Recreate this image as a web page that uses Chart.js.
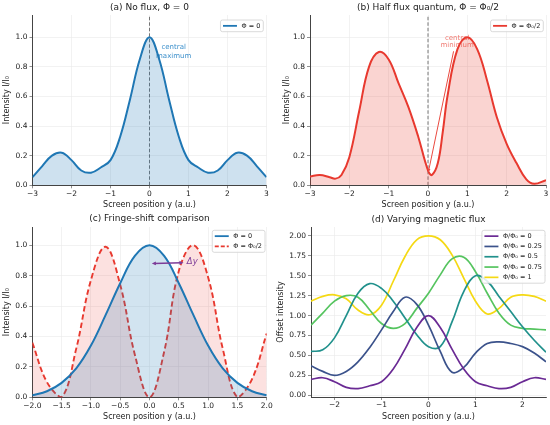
<!DOCTYPE html>
<html>
<head>
<meta charset="utf-8">
<title>Aharonov-Bohm interference</title>
<script src="https://cdn.jsdelivr.net/npm/chart.js@4.4.1/dist/chart.umd.min.js"></script>
<style>
  html, body { margin: 0; padding: 0; background: #fff; }
  #fig { position: relative; width: 550px; height: 425px; }
  #fig canvas { position: absolute; }
</style>
</head>
<body>
<div id="fig">
  <canvas id="panelA" width="275" height="212" style="left:0;top:0;width:275px;height:212px"></canvas>
  <canvas id="panelB" width="275" height="212" style="left:275px;top:0;width:275px;height:212px"></canvas>
  <canvas id="panelC" width="275" height="213" style="left:0;top:212px;width:275px;height:213px"></canvas>
  <canvas id="panelD" width="275" height="213" style="left:275px;top:212px;width:275px;height:213px"></canvas>
</div>
<script>
// Values

// (a) no flux
const posA = [-3, -2.75, -2.5, -2.25, -2, -1.75, -1.5, -1.25, -1, -0.75, -0.5, -0.25, 0,
              0.25, 0.5, 0.75, 1, 1.25, 1.5, 1.75, 2, 2.25, 2.5, 2.75, 3];
const intensityNoFlux = [0.055, 0.13, 0.20, 0.22, 0.17, 0.10, 0.085, 0.12, 0.17, 0.33, 0.58, 0.85, 1.00,
                         0.85, 0.58, 0.33, 0.17, 0.12, 0.085, 0.10, 0.17, 0.22, 0.20, 0.13, 0.055];

// (b) half flux quantum
const posB = [-3, -2.75, -2.5, -2.35, -2.2, -2, -1.75, -1.5, -1.25, -1, -0.75, -0.5, -0.25, 0,
              0.1, 0.25, 0.375, 0.5, 0.75, 1, 1.25, 1.5, 1.75, 2, 2.25, 2.5, 2.7, 3];
const intensityHalfFlux = [0.06, 0.07, 0.055, 0.045, 0.07, 0.19, 0.50, 0.80, 0.90, 0.85, 0.69, 0.53, 0.33, 0.10,
                           0.07, 0.15, 0.36, 0.61, 0.92, 1.00, 0.92, 0.71, 0.46, 0.28, 0.15, 0.04, 0.01, 0.035];

// (c) fringe shift
const posC = [-2, -1.75, -1.5, -1.25, -1, -0.75, -0.5, -0.25, 0, 0.25, 0.5, 0.75, 1, 1.25, 1.5, 1.75, 2];
const fringeNoFlux = [0.013, 0.04, 0.095, 0.19, 0.34, 0.54, 0.75, 0.93, 1.00, 0.93, 0.75, 0.54, 0.34, 0.19, 0.095, 0.04, 0.013];
const fringeHalfFlux = [0.36, 0.10, 0.00, 0.32, 0.77, 0.99, 0.74, 0.28, 0.00, 0.30, 0.83, 1.00, 0.79, 0.32, 0.00, 0.12, 0.42];

// (d) varying flux, each curve offset by its flux value
const posD = [-2.5, -2.25, -2, -1.75, -1.5, -1.25, -1, -0.75, -0.5, -0.25, 0,
              0.25, 0.5, 0.75, 1, 1.25, 1.5, 1.75, 2, 2.25, 2.5];
const offsetFlux0   = [0.20, 0.22, 0.17, 0.10, 0.085, 0.12, 0.17, 0.33, 0.58, 0.85, 1.00, 0.85, 0.58, 0.33, 0.17, 0.12, 0.085, 0.10, 0.17, 0.22, 0.20];
const offsetFlux025 = [0.37, 0.30, 0.25, 0.30, 0.42, 0.60, 0.82, 1.05, 1.23, 1.14, 0.88, 0.55, 0.29, 0.35, 0.53, 0.65, 0.67, 0.65, 0.61, 0.53, 0.42];
const offsetFlux05  = [0.55, 0.57, 0.72, 1.00, 1.28, 1.40, 1.34, 1.18, 0.97, 0.76, 0.61, 0.61, 0.92, 1.30, 1.50, 1.43, 1.24, 1.05, 0.86, 0.69, 0.54];
const offsetFlux075 = [0.88, 1.03, 1.18, 1.25, 1.23, 1.07, 0.90, 0.84, 0.90, 1.09, 1.28, 1.51, 1.71, 1.73, 1.55, 1.28, 1.03, 0.88, 0.84, 0.83, 0.82];
const offsetFlux1   = [1.18, 1.24, 1.26, 1.21, 1.07, 1.01, 1.13, 1.43, 1.74, 1.95, 2.00, 1.95, 1.76, 1.47, 1.18, 1.02, 1.09, 1.23, 1.26, 1.24, 1.18];
const fluxLabels = ['Φ/Φ₀ = 0', 'Φ/Φ₀ = 0.25', 'Φ/Φ₀ = 0.5', 'Φ/Φ₀ = 0.75', 'Φ/Φ₀ = 1'];

// tick positions
const ticksAB = [-3, -2, -1, 0, 1, 2, 3];
const ticksC = [-2, -1.5, -1, -0.5, 0, 0.5, 1, 1.5, 2];
const ticksD = [-2, -1, 0, 1, 2];
const ticksIntensity = [0, 0.2, 0.4, 0.6, 0.8, 1.0];
const ticksOffset = [0, 0.25, 0.5, 0.75, 1.0, 1.25, 1.5, 1.75, 2.0];

const BLUE = '#1f77b4';
const RED = '#e8392f';
const VIRIDIS = ['#6a2a94', '#3b528b', '#21918c', '#55c45f', '#f5d914'];
const FONT = '"DejaVu Sans", sans-serif';

Chart.defaults.font.family = FONT;
Chart.defaults.color = '#222';

function pts(xs, ys) {
    return xs.map((x, i) => ({ x: x, y: ys[i] }));
}

function fmt(digits) {
    return function(v) {
        const s = Math.abs(v).toFixed(digits);
        return (v < -1e-9 ? '\u2212' : '') + s;
    };
}

function drawArrowHead(ctx, x1, y1, x2, y2, size) {
    const ang = Math.atan2(y2 - y1, x2 - x1);
    ctx.beginPath();
    ctx.moveTo(x2, y2);
    ctx.lineTo(x2 - size * Math.cos(ang - 0.45), y2 - size * Math.sin(ang - 0.45));
    ctx.lineTo(x2 - size * Math.cos(ang + 0.45), y2 - size * Math.sin(ang + 0.45));
    ctx.closePath();
    ctx.fill();
}

// titles, legend boxes, reference line and annotations
function makeDecor(cfg) {
    return {
        id: 'decor',
        beforeDatasetsDraw(chart) {
            const { ctx, chartArea: a, scales: { x, y } } = chart;
            ctx.save();
            if (cfg.zeroLine) {
                ctx.strokeStyle = '#666';
                ctx.lineWidth = 0.9;
                ctx.setLineDash([3.5, 2]);
                ctx.beginPath();
                ctx.moveTo(x.getPixelForValue(0), a.bottom);
                ctx.lineTo(x.getPixelForValue(0), a.top);
                ctx.stroke();
                ctx.setLineDash([]);
            }
            (cfg.notes || []).forEach(n => {
                ctx.font = '7px ' + FONT;
                ctx.fillStyle = n.color;
                ctx.textAlign = 'center';
                ctx.textBaseline = 'middle';
                n.lines.forEach((t, i) => {
                    ctx.fillText(t, x.getPixelForValue(n.x), y.getPixelForValue(n.y[i]));
                });
            });
            ctx.restore();
        },
        afterDatasetsDraw(chart) {
            const { ctx, scales: { x, y } } = chart;
            ctx.save();
            if (cfg.pointer) {
                const p = cfg.pointer;
                const x1 = x.getPixelForValue(p.from[0]), y1 = y.getPixelForValue(p.from[1]);
                const x2 = x.getPixelForValue(p.to[0]), y2 = y.getPixelForValue(p.to[1]);
                ctx.strokeStyle = p.color;
                ctx.fillStyle = p.color;
                ctx.lineWidth = 1;
                ctx.setLineDash([]);
                ctx.beginPath();
                ctx.moveTo(x1, y1);
                ctx.lineTo(x2, y2);
                ctx.stroke();
                drawArrowHead(ctx, x1, y1, x2, y2, 3.5);
            }
            if (cfg.shift) {
                const s = cfg.shift;
                ctx.strokeStyle = s.color;
                ctx.fillStyle = s.color;
                ctx.lineWidth = 1.3;
                const x1 = x.getPixelForValue(s.from[0]), y1 = y.getPixelForValue(s.from[1]);
                const x2 = x.getPixelForValue(s.to[0]), y2 = y.getPixelForValue(s.to[1]);
                ctx.beginPath();
                ctx.moveTo(x1 + 2, y1);
                ctx.lineTo(x2 - 2, y2);
                ctx.stroke();
                drawArrowHead(ctx, x1, y1, x2, y2, 4.5);
                drawArrowHead(ctx, x2, y2, x1, y1, 4.5);
                ctx.font = 'italic 8.5px ' + FONT;
                ctx.textAlign = 'center';
                ctx.textBaseline = 'middle';
                ctx.fillText(s.label, x.getPixelForValue(s.labelAt[0]), y.getPixelForValue(s.labelAt[1]));
            }
            ctx.restore();
        },
        afterDraw(chart) {
            const { ctx, chartArea: a } = chart;
            ctx.save();
            ctx.font = '9px ' + FONT;
            ctx.fillStyle = '#222';
            ctx.textAlign = 'center';
            ctx.textBaseline = 'middle';
            ctx.fillText(cfg.title, (a.left + a.right) / 2, cfg.titleY);

            const lg = cfg.legend;
            ctx.font = '6.5px ' + FONT;
            const tw = Math.max(...lg.items.map(it => ctx.measureText(it.label).width));
            const w = 2.5 + 14 + 4.5 + tw + 3;
            const h = lg.items.length * 10.3 + 1.4;
            const bx = a.right - lg.right - w;
            const by = a.top + lg.top;
            ctx.beginPath();
            ctx.roundRect(bx, by, w, h, 2);
            ctx.fillStyle = 'rgba(255,255,255,0.85)';
            ctx.fill();
            ctx.strokeStyle = '#d0d0d0';
            ctx.lineWidth = 0.8;
            ctx.stroke();
            lg.items.forEach((it, i) => {
                const cy = by + 5.85 + i * 10.3;
                ctx.strokeStyle = it.color;
                ctx.lineWidth = it.width || 1.8;
                ctx.setLineDash(it.dash || []);
                ctx.beginPath();
                ctx.moveTo(bx + 2.5, cy);
                ctx.lineTo(bx + 16.5, cy);
                ctx.stroke();
                ctx.setLineDash([]);
                ctx.fillStyle = '#222';
                ctx.textAlign = 'left';
                ctx.textBaseline = 'middle';
                ctx.fillText(it.label, bx + 21, cy);
            });
            ctx.restore();
        }
    };
}

function axis(opts) {
    return {
        type: 'linear',
        min: opts.min,
        max: opts.max,
        afterBuildTicks: s => { s.ticks = opts.ticks.map(v => ({ value: v })); },
        afterFit: s => {
            if (opts.width !== undefined) s.width = opts.width;
            if (opts.height !== undefined) s.height = opts.height;
        },
        ticks: {
            callback: fmt(opts.digits),
            autoSkip: false,
            maxRotation: 0,
            minRotation: 0,
            padding: opts.tickPad,
            font: { size: 7.5 }
        },
        grid: { color: '#e9e9e9', lineWidth: 0.6, tickColor: '#444', tickLength: 3 },
        border: { display: true, color: '#444', width: 1 },
        title: {
            display: true,
            text: opts.title,
            font: { size: 8 },
            padding: opts.titlePad
        }
    };
}

function panel(id, cfg) {
    new Chart(document.getElementById(id), {
        type: 'line',
        data: { datasets: cfg.datasets },
        options: {
            responsive: false,
            animation: false,
            layout: { padding: cfg.padding },
            elements: { point: { radius: 0 }, line: { tension: 0.4 } },
            plugins: { legend: { display: false }, tooltip: { enabled: false } },
            scales: { x: axis(cfg.x), y: axis(cfg.y) }
        },
        plugins: [makeDecor(cfg.decor)]
    });
}

const xTitle = 'Screen position y (a.u.)';

panel('panelA', {
    datasets: [{
        data: pts(posA, intensityNoFlux), borderColor: BLUE, borderWidth: 2,
        fill: 'origin', backgroundColor: 'rgba(31,119,180,0.22)'
    }],
    padding: { top: 15, right: 8.5, left: 0, bottom: 0 },
    x: { min: -3, max: 3, ticks: ticksAB, digits: 0, height: 26.7, tickPad: 1, title: xTitle, titlePad: { top: 0, bottom: 2.2 } },
    y: { min: 0, max: 1.15, ticks: ticksIntensity, digits: 1, width: 32.5, tickPad: 2, title: 'Intensity I/I₀', titlePad: { top: 2, bottom: 0 } },
    decor: {
        title: '(a) No flux, Φ = 0', titleY: 7.5, zeroLine: true,
        notes: [{ lines: ['central', 'maximum'], x: 0.62, y: [0.93, 0.875], color: '#3b8fcb' }],
        legend: { right: 3.2, top: 5, items: [{ label: 'Φ = 0', color: BLUE }] }
    }
});

panel('panelB', {
    datasets: [{
        data: pts(posB, intensityHalfFlux), borderColor: RED, borderWidth: 2,
        fill: 'origin', backgroundColor: 'rgba(232,57,47,0.22)'
    }],
    padding: { top: 15, right: 4, left: 0, bottom: 0 },
    x: { min: -3, max: 3, ticks: ticksAB, digits: 0, height: 26.7, tickPad: 1, title: xTitle, titlePad: { top: 0, bottom: 2.2 } },
    y: { min: 0, max: 1.15, ticks: ticksIntensity, digits: 1, width: 35, tickPad: 2, title: 'Intensity I/I₀', titlePad: { top: 7, bottom: 0 } },
    decor: {
        title: '(b) Half flux quantum, Φ = Φ₀/2', titleY: 7.5, zeroLine: true,
        notes: [{ lines: ['central', 'minimum'], x: 0.74, y: [0.995, 0.945], color: '#f07a72' }],
        pointer: { from: [0.65, 0.905], to: [0.01, 0.09], color: '#ea4a40' },
        legend: { right: 2.7, top: 5, items: [{ label: 'Φ = Φ₀/2', color: RED }] }
    }
});

panel('panelC', {
    datasets: [{
        data: pts(posC, fringeNoFlux), borderColor: BLUE, borderWidth: 2,
        fill: 'origin', backgroundColor: 'rgba(31,119,180,0.2)'
    }, {
        data: pts(posC, fringeHalfFlux), borderColor: RED, borderWidth: 1.9, borderDash: [5.5, 3],
        fill: 'origin', backgroundColor: 'rgba(232,57,47,0.15)'
    }],
    padding: { top: 15, right: 8.3, left: 0, bottom: 0 },
    x: { min: -2, max: 2, ticks: ticksC, digits: 1, height: 27.7, tickPad: 1, title: xTitle, titlePad: { top: 0, bottom: 3.2 } },
    y: { min: 0, max: 1.12, ticks: ticksIntensity, digits: 1, width: 32.3, tickPad: 2, title: 'Intensity I/I₀', titlePad: { top: 2, bottom: 0 } },
    decor: {
        title: '(c) Fringe-shift comparison', titleY: 6.5,
        shift: { from: [0.04, 0.88], to: [0.58, 0.885], labelAt: [0.73, 0.89], label: 'Δy', color: '#7d3c98' },
        legend: { right: 1.7, top: 3.3, items: [
            { label: 'Φ = 0', color: BLUE },
            { label: 'Φ = Φ₀/2', color: RED, dash: [4, 2] }
        ] }
    }
});

const fluxSeries = [offsetFlux0, offsetFlux025, offsetFlux05, offsetFlux075, offsetFlux1];

panel('panelD', {
    datasets: fluxSeries.map((ys, i) => ({
        data: pts(posD, ys), borderColor: VIRIDIS[i], borderWidth: 1.7, fill: false
    })),
    padding: { top: 15, right: 4, left: 0, bottom: 0 },
    x: { min: -2.5, max: 2.5, ticks: ticksD, digits: 0, height: 28, tickPad: 1, title: xTitle, titlePad: { top: 0, bottom: 3.2 } },
    y: { min: -0.021, max: 2.11, ticks: ticksOffset, digits: 2, width: 36, tickPad: 2, title: 'Offset intensity', titlePad: { top: 1.5, bottom: 0 } },
    decor: {
        title: '(d) Varying magnetic flux', titleY: 7.5,
        legend: { right: 1, top: 3.3, items: fluxLabels.map((t, i) => ({ label: t, color: VIRIDIS[i], width: 1.7 })) }
    }
});
</script>
</body>
</html>
